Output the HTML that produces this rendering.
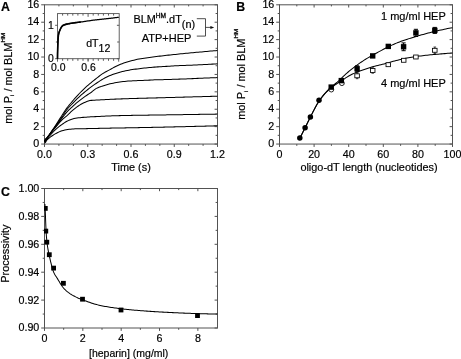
<!DOCTYPE html>
<html><head><meta charset="utf-8"><title>Figure</title>
<style>
html,body{margin:0;padding:0;background:#fff;}
body{width:461px;height:359px;overflow:hidden;}
svg{display:block;font-family:"Liberation Sans",sans-serif;fill:#111;filter:grayscale(1);}
svg text{fill:#000;stroke:#000;stroke-width:0.18px;}
</style></head><body>
<svg width="461" height="359" viewBox="0 0 461 359">
<rect x="0" y="0" width="461" height="359" fill="#fff"/>
<rect x="44.5" y="4.8" width="173" height="139.25" fill="none" stroke="#525252" stroke-width="1.0"/>
<line x1="44.5" y1="144.05" x2="41.2" y2="144.05" stroke="#525252" stroke-width="1.0"/>
<line x1="44.5" y1="126.64" x2="41.2" y2="126.64" stroke="#525252" stroke-width="1.0"/>
<line x1="44.5" y1="109.24" x2="41.2" y2="109.24" stroke="#525252" stroke-width="1.0"/>
<line x1="44.5" y1="91.83" x2="41.2" y2="91.83" stroke="#525252" stroke-width="1.0"/>
<line x1="44.5" y1="74.43" x2="41.2" y2="74.43" stroke="#525252" stroke-width="1.0"/>
<line x1="44.5" y1="57.02" x2="41.2" y2="57.02" stroke="#525252" stroke-width="1.0"/>
<line x1="44.5" y1="39.61" x2="41.2" y2="39.61" stroke="#525252" stroke-width="1.0"/>
<line x1="44.5" y1="22.21" x2="41.2" y2="22.21" stroke="#525252" stroke-width="1.0"/>
<line x1="44.5" y1="4.8" x2="41.2" y2="4.8" stroke="#525252" stroke-width="1.0"/>
<line x1="44.5" y1="135.35" x2="42.7" y2="135.35" stroke="#525252" stroke-width="1.0"/>
<line x1="44.5" y1="117.94" x2="42.7" y2="117.94" stroke="#525252" stroke-width="1.0"/>
<line x1="44.5" y1="100.53" x2="42.7" y2="100.53" stroke="#525252" stroke-width="1.0"/>
<line x1="44.5" y1="83.13" x2="42.7" y2="83.13" stroke="#525252" stroke-width="1.0"/>
<line x1="44.5" y1="65.72" x2="42.7" y2="65.72" stroke="#525252" stroke-width="1.0"/>
<line x1="44.5" y1="48.32" x2="42.7" y2="48.32" stroke="#525252" stroke-width="1.0"/>
<line x1="44.5" y1="30.91" x2="42.7" y2="30.91" stroke="#525252" stroke-width="1.0"/>
<line x1="44.5" y1="13.5" x2="42.7" y2="13.5" stroke="#525252" stroke-width="1.0"/>
<line x1="217.5" y1="144.05" x2="214.6" y2="144.05" stroke="#525252" stroke-width="1.0"/>
<line x1="217.5" y1="126.64" x2="214.6" y2="126.64" stroke="#525252" stroke-width="1.0"/>
<line x1="217.5" y1="109.24" x2="214.6" y2="109.24" stroke="#525252" stroke-width="1.0"/>
<line x1="217.5" y1="91.83" x2="214.6" y2="91.83" stroke="#525252" stroke-width="1.0"/>
<line x1="217.5" y1="74.43" x2="214.6" y2="74.43" stroke="#525252" stroke-width="1.0"/>
<line x1="217.5" y1="57.02" x2="214.6" y2="57.02" stroke="#525252" stroke-width="1.0"/>
<line x1="217.5" y1="39.61" x2="214.6" y2="39.61" stroke="#525252" stroke-width="1.0"/>
<line x1="217.5" y1="22.21" x2="214.6" y2="22.21" stroke="#525252" stroke-width="1.0"/>
<line x1="217.5" y1="4.8" x2="214.6" y2="4.8" stroke="#525252" stroke-width="1.0"/>
<line x1="217.5" y1="135.35" x2="215.6" y2="135.35" stroke="#525252" stroke-width="1.0"/>
<line x1="217.5" y1="117.94" x2="215.6" y2="117.94" stroke="#525252" stroke-width="1.0"/>
<line x1="217.5" y1="100.53" x2="215.6" y2="100.53" stroke="#525252" stroke-width="1.0"/>
<line x1="217.5" y1="83.13" x2="215.6" y2="83.13" stroke="#525252" stroke-width="1.0"/>
<line x1="217.5" y1="65.72" x2="215.6" y2="65.72" stroke="#525252" stroke-width="1.0"/>
<line x1="217.5" y1="48.32" x2="215.6" y2="48.32" stroke="#525252" stroke-width="1.0"/>
<line x1="217.5" y1="30.91" x2="215.6" y2="30.91" stroke="#525252" stroke-width="1.0"/>
<line x1="217.5" y1="13.5" x2="215.6" y2="13.5" stroke="#525252" stroke-width="1.0"/>
<line x1="44.5" y1="144.05" x2="44.5" y2="146.95" stroke="#525252" stroke-width="1.0"/>
<line x1="87.75" y1="144.05" x2="87.75" y2="146.95" stroke="#525252" stroke-width="1.0"/>
<line x1="131" y1="144.05" x2="131" y2="146.95" stroke="#525252" stroke-width="1.0"/>
<line x1="174.25" y1="144.05" x2="174.25" y2="146.95" stroke="#525252" stroke-width="1.0"/>
<line x1="217.5" y1="144.05" x2="217.5" y2="146.95" stroke="#525252" stroke-width="1.0"/>
<line x1="58.92" y1="144.05" x2="58.92" y2="145.85" stroke="#525252" stroke-width="1.0"/>
<line x1="73.33" y1="144.05" x2="73.33" y2="145.85" stroke="#525252" stroke-width="1.0"/>
<line x1="102.17" y1="144.05" x2="102.17" y2="145.85" stroke="#525252" stroke-width="1.0"/>
<line x1="116.58" y1="144.05" x2="116.58" y2="145.85" stroke="#525252" stroke-width="1.0"/>
<line x1="145.42" y1="144.05" x2="145.42" y2="145.85" stroke="#525252" stroke-width="1.0"/>
<line x1="159.83" y1="144.05" x2="159.83" y2="145.85" stroke="#525252" stroke-width="1.0"/>
<line x1="188.67" y1="144.05" x2="188.67" y2="145.85" stroke="#525252" stroke-width="1.0"/>
<line x1="203.08" y1="144.05" x2="203.08" y2="145.85" stroke="#525252" stroke-width="1.0"/>
<line x1="44.5" y1="4.8" x2="44.5" y2="7.5" stroke="#525252" stroke-width="1.0"/>
<line x1="87.75" y1="4.8" x2="87.75" y2="7.5" stroke="#525252" stroke-width="1.0"/>
<line x1="131" y1="4.8" x2="131" y2="7.5" stroke="#525252" stroke-width="1.0"/>
<line x1="174.25" y1="4.8" x2="174.25" y2="7.5" stroke="#525252" stroke-width="1.0"/>
<line x1="217.5" y1="4.8" x2="217.5" y2="7.5" stroke="#525252" stroke-width="1.0"/>
<line x1="58.92" y1="4.8" x2="58.92" y2="6.4" stroke="#525252" stroke-width="1.0"/>
<line x1="73.33" y1="4.8" x2="73.33" y2="6.4" stroke="#525252" stroke-width="1.0"/>
<line x1="102.17" y1="4.8" x2="102.17" y2="6.4" stroke="#525252" stroke-width="1.0"/>
<line x1="116.58" y1="4.8" x2="116.58" y2="6.4" stroke="#525252" stroke-width="1.0"/>
<line x1="145.42" y1="4.8" x2="145.42" y2="6.4" stroke="#525252" stroke-width="1.0"/>
<line x1="159.83" y1="4.8" x2="159.83" y2="6.4" stroke="#525252" stroke-width="1.0"/>
<line x1="188.67" y1="4.8" x2="188.67" y2="6.4" stroke="#525252" stroke-width="1.0"/>
<line x1="203.08" y1="4.8" x2="203.08" y2="6.4" stroke="#525252" stroke-width="1.0"/>
<text x="39.3" y="147.25" font-size="10.7" text-anchor="end" font-weight="normal" >0</text>
<text x="39.3" y="129.84" font-size="10.7" text-anchor="end" font-weight="normal" >2</text>
<text x="39.3" y="112.44" font-size="10.7" text-anchor="end" font-weight="normal" >4</text>
<text x="39.3" y="95.03" font-size="10.7" text-anchor="end" font-weight="normal" >6</text>
<text x="39.3" y="77.63" font-size="10.7" text-anchor="end" font-weight="normal" >8</text>
<text x="39.3" y="60.22" font-size="10.7" text-anchor="end" font-weight="normal" >10</text>
<text x="39.3" y="42.81" font-size="10.7" text-anchor="end" font-weight="normal" >12</text>
<text x="39.3" y="25.41" font-size="10.7" text-anchor="end" font-weight="normal" >14</text>
<text x="39.3" y="8" font-size="10.7" text-anchor="end" font-weight="normal" >16</text>
<text x="44.5" y="157.85" font-size="10.7" text-anchor="middle" font-weight="normal" >0.0</text>
<text x="87.75" y="157.85" font-size="10.7" text-anchor="middle" font-weight="normal" >0.3</text>
<text x="131" y="157.85" font-size="10.7" text-anchor="middle" font-weight="normal" >0.6</text>
<text x="174.25" y="157.85" font-size="10.7" text-anchor="middle" font-weight="normal" >0.9</text>
<text x="217.5" y="157.85" font-size="10.7" text-anchor="middle" font-weight="normal" >1.2</text>
<text x="131" y="171.4" font-size="10.9" text-anchor="middle" font-weight="normal" >Time (s)</text>
<text x="1" y="11" font-size="12.3" text-anchor="start" font-weight="bold" >A</text>
<text transform="translate(11.8,123.8) rotate(-90)" font-size="10.9" text-anchor="start">mol P<tspan font-size="6" dy="2.4">i</tspan><tspan dy="-2.4"> / mol BLM</tspan><tspan font-size="6.2" dy="-7.0" stroke-width="0.3">HM</tspan></text>
<path d="M44.3 141.6 L45.34 140.19 L46.37 138.77 L47.39 137.35 L48.41 135.92 L49.41 134.48 L50.4 133.04 L51.39 131.59 L52.38 130.14 L53.37 128.7 L54.35 127.24 L55.32 125.79 L56.29 124.32 L57.24 122.85 L58.18 121.37 L59.1 119.88 L60.03 118.39 L60.96 116.91 L61.91 115.43 L62.85 113.96 L63.8 112.48 L64.77 111.02 L65.76 109.57 L66.79 108.16 L67.86 106.78 L68.96 105.41 L70.07 104.05 L71.2 102.71 L72.33 101.37 L73.46 100.03 L74.61 98.7 L75.77 97.39 L76.94 96.08 L78.12 94.79 L79.33 93.52 L80.55 92.26 L81.78 91.02 L83.04 89.79 L84.31 88.58 L85.59 87.4 L86.9 86.23 L88.23 85.08 L89.57 83.95 L90.91 82.82 L92.26 81.71 L93.62 80.61 L95 79.51 L96.37 78.43 L97.75 77.35 L99.13 76.25 L100.52 75.18 L101.93 74.15 L103.39 73.19 L104.9 72.32 L106.45 71.49 L108.01 70.67 L109.55 69.84 L111.09 68.98 L112.62 68.12 L114.15 67.27 L115.7 66.45 L117.27 65.68 L118.87 64.98 L120.49 64.32 L122.13 63.69 L123.78 63.1 L125.45 62.53 L127.12 62 L128.8 61.51 L130.49 61.04 L132.19 60.6 L133.89 60.18 L135.59 59.76 L137.3 59.35 L139.01 58.99 L140.73 58.67 L142.46 58.4 L144.2 58.16 L145.94 57.92 L147.67 57.68 L149.41 57.45 L151.15 57.22 L152.89 57 L154.62 56.77 L156.36 56.55 L158.1 56.34 L159.84 56.12 L161.58 55.91 L163.32 55.7 L165.06 55.5 L166.8 55.31 L168.55 55.12 L170.29 54.93 L172.03 54.75 L173.78 54.57 L175.52 54.39 L177.26 54.21 L179.01 54.04 L180.75 53.86 L182.49 53.69 L184.24 53.51 L185.98 53.34 L187.73 53.17 L189.47 53.01 L191.22 52.84 L192.96 52.68 L194.71 52.52 L196.45 52.36 L198.2 52.2 L199.94 52.05 L201.69 51.89 L203.43 51.73 L205.18 51.58 L206.92 51.42 L208.67 51.27 L210.42 51.11 L212.16 50.96 L213.91 50.8 L215.65 50.65 L217.4 50.5" fill="none" stroke="#000" stroke-width="1.02" stroke-linejoin="round" />
<path d="M44.3 141.6 L45.33 140.24 L46.35 138.87 L47.36 137.5 L48.35 136.11 L49.34 134.72 L50.32 133.33 L51.31 131.94 L52.31 130.55 L53.3 129.17 L54.3 127.78 L55.29 126.4 L56.28 125.01 L57.27 123.62 L58.28 122.24 L59.28 120.86 L60.28 119.47 L61.26 118.08 L62.24 116.68 L63.19 115.27 L64.08 113.81 L64.95 112.34 L65.88 110.91 L66.9 109.56 L68 108.27 L69.14 107 L70.33 105.76 L71.51 104.52 L72.69 103.29 L73.88 102.06 L75.07 100.84 L76.28 99.64 L77.51 98.45 L78.74 97.28 L80 96.12 L81.27 94.98 L82.55 93.86 L83.85 92.75 L85.15 91.66 L86.48 90.58 L87.81 89.51 L89.16 88.47 L90.52 87.44 L91.89 86.42 L93.27 85.43 L94.67 84.45 L96.08 83.49 L97.49 82.53 L98.91 81.59 L100.35 80.65 L101.79 79.75 L103.26 78.89 L104.75 78.06 L106.26 77.25 L107.79 76.5 L109.35 75.81 L110.92 75.17 L112.52 74.57 L114.13 73.99 L115.76 73.46 L117.39 72.95 L119.02 72.48 L120.67 72.03 L122.32 71.61 L123.98 71.21 L125.65 70.84 L127.32 70.5 L128.99 70.17 L130.67 69.87 L132.36 69.6 L134.04 69.35 L135.73 69.12 L137.42 68.91 L139.12 68.71 L140.81 68.5 L142.51 68.3 L144.2 68.1 L145.9 67.92 L147.59 67.75 L149.29 67.58 L150.99 67.42 L152.69 67.27 L154.39 67.12 L156.09 66.99 L157.79 66.88 L159.49 66.77 L161.19 66.68 L162.9 66.58 L164.6 66.48 L166.3 66.37 L168 66.26 L169.7 66.15 L171.41 66.04 L173.11 65.93 L174.81 65.83 L176.51 65.74 L178.22 65.66 L179.92 65.59 L181.63 65.53 L183.33 65.46 L185.04 65.41 L186.74 65.35 L188.44 65.28 L190.15 65.22 L191.85 65.15 L193.56 65.08 L195.26 65 L196.96 64.93 L198.67 64.85 L200.37 64.77 L202.08 64.69 L203.78 64.6 L205.48 64.51 L207.19 64.42 L208.89 64.32 L210.59 64.22 L212.29 64.12 L214 64.02 L215.7 63.91 L217.4 63.8" fill="none" stroke="#000" stroke-width="1.02" stroke-linejoin="round" />
<path d="M44.3 141.6 L45.31 140.29 L46.32 138.97 L47.31 137.65 L48.3 136.32 L49.27 134.97 L50.24 133.63 L51.22 132.3 L52.21 130.97 L53.21 129.64 L54.2 128.32 L55.21 127 L56.21 125.68 L57.21 124.37 L58.22 123.05 L59.23 121.74 L60.24 120.43 L61.26 119.12 L62.27 117.81 L63.29 116.5 L64.31 115.19 L65.31 113.87 L66.37 112.6 L67.49 111.39 L68.66 110.22 L69.86 109.07 L71.08 107.94 L72.29 106.81 L73.51 105.68 L74.73 104.56 L75.97 103.46 L77.23 102.38 L78.5 101.32 L79.79 100.29 L81.1 99.28 L82.43 98.29 L83.78 97.31 L85.13 96.36 L86.51 95.45 L87.91 94.55 L89.3 93.65 L90.67 92.72 L92 91.72 L93.3 90.65 L94.61 89.61 L95.96 88.67 L97.38 87.92 L98.89 87.26 L100.44 86.68 L102.03 86.14 L103.63 85.64 L105.21 85.15 L106.8 84.7 L108.41 84.27 L110.02 83.86 L111.63 83.49 L113.25 83.15 L114.87 82.82 L116.51 82.53 L118.14 82.26 L119.78 82.02 L121.42 81.79 L123.07 81.58 L124.71 81.39 L126.36 81.24 L128.01 81.11 L129.66 81 L131.32 80.91 L132.97 80.82 L134.63 80.74 L136.28 80.67 L137.94 80.59 L139.59 80.53 L141.25 80.47 L142.91 80.42 L144.56 80.36 L146.22 80.3 L147.87 80.22 L149.53 80.13 L151.18 80.03 L152.83 79.94 L154.49 79.86 L156.14 79.8 L157.8 79.75 L159.46 79.71 L161.11 79.67 L162.77 79.64 L164.43 79.59 L166.08 79.55 L167.74 79.5 L169.39 79.45 L171.05 79.4 L172.7 79.35 L174.36 79.3 L176.02 79.25 L177.67 79.19 L179.33 79.13 L180.98 79.07 L182.64 79.01 L184.29 78.95 L185.95 78.89 L187.61 78.82 L189.26 78.75 L190.92 78.69 L192.57 78.62 L194.23 78.54 L195.88 78.46 L197.54 78.38 L199.19 78.3 L200.85 78.23 L202.5 78.15 L204.16 78.09 L205.81 78.02 L207.47 77.95 L209.12 77.89 L210.78 77.83 L212.43 77.77 L214.09 77.71 L215.74 77.65 L217.4 77.6" fill="none" stroke="#000" stroke-width="1.02" stroke-linejoin="round" />
<path d="M44.3 141.6 L45.29 140.35 L46.27 139.09 L47.25 137.83 L48.22 136.56 L49.18 135.29 L50.14 134.02 L51.13 132.76 L52.12 131.51 L53.12 130.27 L54.13 129.03 L55.15 127.8 L56.18 126.58 L57.2 125.36 L58.23 124.13 L59.26 122.91 L60.31 121.7 L61.39 120.53 L62.5 119.4 L63.69 118.34 L64.92 117.32 L66.16 116.31 L67.38 115.28 L68.55 114.2 L69.69 113.08 L70.83 111.96 L71.99 110.87 L73.2 109.83 L74.44 108.81 L75.7 107.82 L76.98 106.87 L78.29 105.97 L79.63 105.11 L81 104.27 L82.41 103.49 L83.84 102.79 L85.29 102.17 L86.79 101.57 L88.31 101.02 L89.86 100.6 L91.41 100.37 L92.99 100.25 L94.59 100.16 L96.2 100.08 L97.79 99.99 L99.38 99.91 L100.98 99.82 L102.57 99.74 L104.16 99.65 L105.76 99.57 L107.35 99.49 L108.95 99.41 L110.54 99.33 L112.13 99.26 L113.73 99.19 L115.32 99.12 L116.92 99.06 L118.51 99 L120.1 98.94 L121.7 98.88 L123.29 98.82 L124.89 98.77 L126.48 98.71 L128.08 98.66 L129.67 98.61 L131.27 98.56 L132.86 98.51 L134.46 98.47 L136.05 98.42 L137.65 98.38 L139.24 98.34 L140.84 98.29 L142.43 98.25 L144.03 98.21 L145.62 98.17 L147.22 98.13 L148.81 98.09 L150.41 98.05 L152 98.01 L153.6 97.96 L155.19 97.92 L156.79 97.88 L158.38 97.83 L159.98 97.79 L161.57 97.75 L163.17 97.7 L164.76 97.66 L166.36 97.61 L167.95 97.57 L169.55 97.52 L171.14 97.48 L172.74 97.43 L174.33 97.39 L175.93 97.34 L177.52 97.3 L179.12 97.25 L180.71 97.21 L182.31 97.16 L183.9 97.12 L185.5 97.08 L187.09 97.03 L188.69 96.99 L190.28 96.94 L191.88 96.9 L193.47 96.85 L195.07 96.81 L196.66 96.77 L198.26 96.72 L199.85 96.68 L201.45 96.64 L203.04 96.59 L204.64 96.55 L206.23 96.5 L207.83 96.46 L209.42 96.42 L211.02 96.37 L212.61 96.33 L214.21 96.29 L215.8 96.24 L217.4 96.2" fill="none" stroke="#000" stroke-width="1.02" stroke-linejoin="round" />
<path d="M44.3 141.6 L45.36 140.5 L46.4 139.39 L47.44 138.27 L48.46 137.13 L49.46 135.98 L50.48 134.84 L51.52 133.72 L52.56 132.6 L53.62 131.49 L54.69 130.4 L55.79 129.34 L56.92 128.33 L58.09 127.35 L59.28 126.39 L60.51 125.47 L61.75 124.58 L63.01 123.72 L64.28 122.87 L65.58 122.05 L66.91 121.29 L68.27 120.62 L69.67 120.01 L71.1 119.44 L72.55 118.95 L74.02 118.57 L75.51 118.28 L77.02 118.04 L78.54 117.83 L80.06 117.66 L81.58 117.51 L83.1 117.38 L84.62 117.26 L86.15 117.15 L87.67 117.05 L89.19 116.95 L90.72 116.86 L92.24 116.77 L93.77 116.69 L95.29 116.62 L96.82 116.54 L98.34 116.47 L99.87 116.4 L101.39 116.33 L102.92 116.26 L104.44 116.18 L105.97 116.11 L107.49 116.04 L109.02 115.97 L110.54 115.9 L112.07 115.85 L113.6 115.79 L115.12 115.75 L116.65 115.7 L118.17 115.66 L119.7 115.62 L121.23 115.58 L122.75 115.55 L124.28 115.51 L125.81 115.48 L127.33 115.45 L128.86 115.42 L130.38 115.39 L131.91 115.37 L133.44 115.34 L134.96 115.32 L136.49 115.3 L138.02 115.27 L139.54 115.25 L141.07 115.23 L142.6 115.21 L144.12 115.19 L145.65 115.17 L147.18 115.15 L148.7 115.13 L150.23 115.11 L151.76 115.09 L153.28 115.07 L154.81 115.04 L156.34 115.02 L157.86 115 L159.39 114.98 L160.92 114.95 L162.44 114.93 L163.97 114.91 L165.5 114.89 L167.02 114.86 L168.55 114.84 L170.08 114.82 L171.6 114.8 L173.13 114.77 L174.66 114.75 L176.18 114.73 L177.71 114.7 L179.24 114.68 L180.76 114.66 L182.29 114.64 L183.82 114.61 L185.34 114.59 L186.87 114.57 L188.4 114.54 L189.92 114.52 L191.45 114.5 L192.97 114.47 L194.5 114.45 L196.03 114.43 L197.55 114.41 L199.08 114.38 L200.61 114.36 L202.13 114.34 L203.66 114.31 L205.19 114.29 L206.71 114.27 L208.24 114.24 L209.77 114.22 L211.29 114.19 L212.82 114.17 L214.35 114.15 L215.87 114.12 L217.4 114.1" fill="none" stroke="#000" stroke-width="1.02" stroke-linejoin="round" />
<path d="M44.3 141.6 L45.52 140.75 L46.72 139.88 L47.9 138.99 L49.06 138.06 L50.23 137.14 L51.43 136.29 L52.67 135.46 L53.92 134.66 L55.2 133.9 L56.5 133.2 L57.82 132.53 L59.17 131.9 L60.54 131.31 L61.94 130.81 L63.35 130.4 L64.79 130.01 L66.24 129.69 L67.71 129.45 L69.17 129.29 L70.64 129.15 L72.12 129.03 L73.61 128.94 L75.09 128.86 L76.58 128.81 L78.06 128.77 L79.54 128.74 L81.02 128.71 L82.5 128.69 L83.99 128.67 L85.47 128.65 L86.95 128.63 L88.44 128.6 L89.92 128.57 L91.4 128.54 L92.88 128.51 L94.37 128.47 L95.85 128.44 L97.33 128.4 L98.81 128.37 L100.29 128.34 L101.78 128.3 L103.26 128.27 L104.74 128.24 L106.22 128.22 L107.71 128.19 L109.19 128.16 L110.67 128.13 L112.15 128.1 L113.64 128.08 L115.12 128.05 L116.6 128.02 L118.08 128 L119.57 127.97 L121.05 127.95 L122.53 127.92 L124.01 127.89 L125.5 127.87 L126.98 127.84 L128.46 127.82 L129.94 127.79 L131.43 127.77 L132.91 127.74 L134.39 127.71 L135.87 127.69 L137.36 127.66 L138.84 127.63 L140.32 127.61 L141.8 127.58 L143.29 127.55 L144.77 127.52 L146.25 127.49 L147.73 127.46 L149.22 127.43 L150.7 127.4 L152.18 127.37 L153.66 127.34 L155.14 127.31 L156.63 127.28 L158.11 127.25 L159.59 127.22 L161.07 127.18 L162.56 127.15 L164.04 127.12 L165.52 127.09 L167 127.05 L168.49 127.02 L169.97 126.99 L171.45 126.95 L172.93 126.92 L174.42 126.88 L175.9 126.85 L177.38 126.82 L178.86 126.78 L180.34 126.75 L181.83 126.71 L183.31 126.68 L184.79 126.64 L186.27 126.6 L187.76 126.57 L189.24 126.53 L190.72 126.49 L192.2 126.46 L193.68 126.42 L195.17 126.38 L196.65 126.35 L198.13 126.31 L199.61 126.27 L201.1 126.23 L202.58 126.19 L204.06 126.16 L205.54 126.12 L207.02 126.08 L208.51 126.04 L209.99 126 L211.47 125.96 L212.95 125.92 L214.44 125.88 L215.92 125.84 L217.4 125.8" fill="none" stroke="#000" stroke-width="1.02" stroke-linejoin="round" />
<path d="M44.5 139 L47.6 136.8 L48.3 138.4 L46 142.6 L44.5 143.8 Z" fill="#000"/>
<rect x="57.5" y="13.6" width="61.7" height="45.1" fill="#fff" stroke="#525252" stroke-width="0.9"/>
<line x1="57.5" y1="58.7" x2="57.5" y2="61.7" stroke="#525252" stroke-width="0.9"/>
<line x1="88.1" y1="58.7" x2="88.1" y2="61.7" stroke="#525252" stroke-width="0.9"/>
<line x1="118.7" y1="58.7" x2="118.7" y2="61.7" stroke="#525252" stroke-width="0.9"/>
<line x1="62.6" y1="58.7" x2="62.6" y2="60.8" stroke="#525252" stroke-width="0.95"/>
<line x1="62.6" y1="13.6" x2="62.6" y2="15.6" stroke="#525252" stroke-width="0.95"/>
<line x1="67.7" y1="58.7" x2="67.7" y2="60.8" stroke="#525252" stroke-width="0.95"/>
<line x1="67.7" y1="13.6" x2="67.7" y2="15.6" stroke="#525252" stroke-width="0.95"/>
<line x1="72.8" y1="58.7" x2="72.8" y2="60.8" stroke="#525252" stroke-width="0.95"/>
<line x1="72.8" y1="13.6" x2="72.8" y2="15.6" stroke="#525252" stroke-width="0.95"/>
<line x1="77.9" y1="58.7" x2="77.9" y2="60.8" stroke="#525252" stroke-width="0.95"/>
<line x1="77.9" y1="13.6" x2="77.9" y2="15.6" stroke="#525252" stroke-width="0.95"/>
<line x1="83" y1="58.7" x2="83" y2="60.8" stroke="#525252" stroke-width="0.95"/>
<line x1="83" y1="13.6" x2="83" y2="15.6" stroke="#525252" stroke-width="0.95"/>
<line x1="88.1" y1="58.7" x2="88.1" y2="60.8" stroke="#525252" stroke-width="0.95"/>
<line x1="88.1" y1="13.6" x2="88.1" y2="16.8" stroke="#525252" stroke-width="0.95"/>
<line x1="93.2" y1="58.7" x2="93.2" y2="60.8" stroke="#525252" stroke-width="0.95"/>
<line x1="93.2" y1="13.6" x2="93.2" y2="15.6" stroke="#525252" stroke-width="0.95"/>
<line x1="98.3" y1="58.7" x2="98.3" y2="60.8" stroke="#525252" stroke-width="0.95"/>
<line x1="98.3" y1="13.6" x2="98.3" y2="15.6" stroke="#525252" stroke-width="0.95"/>
<line x1="103.4" y1="58.7" x2="103.4" y2="60.8" stroke="#525252" stroke-width="0.95"/>
<line x1="103.4" y1="13.6" x2="103.4" y2="15.6" stroke="#525252" stroke-width="0.95"/>
<line x1="108.5" y1="58.7" x2="108.5" y2="60.8" stroke="#525252" stroke-width="0.95"/>
<line x1="108.5" y1="13.6" x2="108.5" y2="15.6" stroke="#525252" stroke-width="0.95"/>
<line x1="113.6" y1="58.7" x2="113.6" y2="60.8" stroke="#525252" stroke-width="0.95"/>
<line x1="113.6" y1="13.6" x2="113.6" y2="15.6" stroke="#525252" stroke-width="0.95"/>
<line x1="57.5" y1="58.7" x2="55.1" y2="58.7" stroke="#525252" stroke-width="0.9"/>
<line x1="119.2" y1="58.7" x2="116.9" y2="58.7" stroke="#525252" stroke-width="0.95"/>
<line x1="57.5" y1="25.3" x2="55.1" y2="25.3" stroke="#525252" stroke-width="0.9"/>
<line x1="119.2" y1="25.3" x2="116.9" y2="25.3" stroke="#525252" stroke-width="0.95"/>
<line x1="57.5" y1="42" x2="55.9" y2="42" stroke="#525252" stroke-width="0.95"/>
<line x1="119.2" y1="42" x2="117.2" y2="42" stroke="#525252" stroke-width="0.95"/>
<text x="53.9" y="28.9" font-size="10.4" text-anchor="end" font-weight="normal" >1</text>
<text x="53.9" y="62.3" font-size="10.4" text-anchor="end" font-weight="normal" >0</text>
<text x="58.2" y="71.4" font-size="10.4" text-anchor="middle" font-weight="normal" >0.0</text>
<text x="88.5" y="71.4" font-size="10.4" text-anchor="middle" font-weight="normal" >0.6</text>
<text x="86.2" y="46.8" font-size="10.6" text-anchor="start">dT<tspan dy="5.1">12</tspan></text>
<path d="M57.5 58.7 L57.5 57.94 L57.51 57.17 L57.51 56.41 L57.52 55.64 L57.53 54.88 L57.54 54.11 L57.56 53.35 L57.57 52.58 L57.59 51.82 L57.61 51.06 L57.63 50.29 L57.66 49.53 L57.68 48.77 L57.71 48 L57.73 47.24 L57.76 46.48 L57.79 45.71 L57.82 44.95 L57.85 44.19 L57.88 43.42 L57.91 42.66 L57.94 41.9 L57.97 41.13 L58.01 40.36 L58.06 39.59 L58.11 38.83 L58.17 38.06 L58.23 37.3 L58.3 36.54 L58.38 35.79 L58.47 35.04 L58.58 34.29 L58.73 33.55 L58.93 32.8 L59.17 32.06 L59.43 31.33 L59.72 30.61 L60.02 29.91 L60.33 29.23 L60.67 28.52 L61.05 27.8 L61.46 27.1 L61.92 26.46 L62.41 25.9 L62.94 25.47 L63.56 25.13 L64.28 24.84 L65.04 24.59 L65.81 24.38 L66.54 24.19 L67.28 24.02 L68.03 23.86 L68.78 23.72 L69.54 23.58 L70.3 23.46 L71.05 23.33 L71.81 23.21 L72.56 23.1 L73.32 22.98 L74.07 22.88 L74.83 22.78 L75.59 22.68 L76.35 22.58 L77.1 22.48 L77.86 22.39 L78.62 22.29 L79.38 22.19 L80.14 22.09 L80.89 21.99 L81.65 21.88 L82.41 21.77 L83.16 21.66 L83.92 21.55 L84.67 21.44 L85.43 21.32 L86.19 21.21 L86.94 21.1 L87.7 20.98 L88.45 20.87 L89.21 20.76 L89.96 20.65 L90.72 20.54 L91.48 20.43 L92.23 20.33 L92.99 20.23 L93.75 20.13 L94.51 20.04 L95.26 19.94 L96.02 19.85 L96.78 19.77 L97.54 19.68 L98.3 19.59 L99.06 19.51 L99.82 19.43 L100.58 19.34 L101.34 19.26 L102.1 19.18 L102.86 19.1 L103.62 19.02 L104.38 18.94 L105.14 18.86 L105.9 18.78 L106.66 18.69 L107.42 18.61 L108.17 18.53 L108.93 18.44 L109.69 18.35 L110.45 18.27 L111.21 18.18 L111.97 18.09 L112.73 18.01 L113.49 17.92 L114.25 17.83 L115.01 17.74 L115.76 17.65 L116.52 17.57 L117.28 17.48 L118.04 17.39 L118.8 17.3" fill="none" stroke="#000" stroke-width="1.25" stroke-linejoin="round" />
<path d="M57.5 58.7 L57.5 57.81 L57.51 56.91 L57.52 56.02 L57.53 55.13 L57.54 54.24 L57.56 53.34 L57.58 52.45 L57.6 51.56 L57.62 50.67 L57.65 49.78 L57.68 48.89 L57.71 48 L57.74 47.1 L57.77 46.21 L57.8 45.32 L57.84 44.43 L57.87 43.54 L57.91 42.65 L57.94 41.76 L57.99 40.86 L58.04 39.97 L58.09 39.07 L58.16 38.18 L58.23 37.29 L58.32 36.4 L58.41 35.52 L58.52 34.65 L58.68 33.78 L58.9 32.91 L59.18 32.05 L59.49 31.19 L59.83 30.36 L60.18 29.55 L60.56 28.74 L60.99 27.9 L61.48 27.08 L62.01 26.34 L62.6 25.73 L63.26 25.29 L64.05 24.93 L64.94 24.63 L65.83 24.37 L66.69 24.15 L67.56 23.96 L68.43 23.78 L69.31 23.62 L70.2 23.47 L71.08 23.33 L71.96 23.19 L72.84 23.05 L73.72 22.92 L74.6 22.78 L75.49 22.66 L76.37 22.53 L77.25 22.42 L78.14 22.3 L79.03 22.2 L79.91 22.09 L80.8 22" fill="none" stroke="#000" stroke-width="1.6" stroke-linejoin="round" />
<text x="133.4" y="23.2" font-size="10.9" text-anchor="start">BLM<tspan font-size="6.6" dy="-5.5" stroke-width="0.3">HM</tspan><tspan dy="5.5">.dT</tspan><tspan dy="4.4" font-size="10.9">(n)</tspan></text>
<text x="141.8" y="41.9" font-size="11" text-anchor="start" font-weight="normal" >ATP+HEP</text>
<path d="M196.8 18.7 H205.5 V36.1 H196.8" fill="none" stroke="#222" stroke-width="0.8"/>
<path d="M205.5 27.4 H212" fill="none" stroke="#222" stroke-width="0.8"/>
<path d="M210.4 25.9 L214.2 27.4 L210.4 28.9 Z" fill="#111"/>
<rect x="279.5" y="4.8" width="173" height="139.25" fill="none" stroke="#525252" stroke-width="1.0"/>
<line x1="279.5" y1="144.05" x2="276.2" y2="144.05" stroke="#525252" stroke-width="1.0"/>
<line x1="279.5" y1="126.64" x2="276.2" y2="126.64" stroke="#525252" stroke-width="1.0"/>
<line x1="279.5" y1="109.24" x2="276.2" y2="109.24" stroke="#525252" stroke-width="1.0"/>
<line x1="279.5" y1="91.83" x2="276.2" y2="91.83" stroke="#525252" stroke-width="1.0"/>
<line x1="279.5" y1="74.43" x2="276.2" y2="74.43" stroke="#525252" stroke-width="1.0"/>
<line x1="279.5" y1="57.02" x2="276.2" y2="57.02" stroke="#525252" stroke-width="1.0"/>
<line x1="279.5" y1="39.61" x2="276.2" y2="39.61" stroke="#525252" stroke-width="1.0"/>
<line x1="279.5" y1="22.21" x2="276.2" y2="22.21" stroke="#525252" stroke-width="1.0"/>
<line x1="279.5" y1="4.8" x2="276.2" y2="4.8" stroke="#525252" stroke-width="1.0"/>
<line x1="279.5" y1="135.35" x2="277.7" y2="135.35" stroke="#525252" stroke-width="1.0"/>
<line x1="279.5" y1="117.94" x2="277.7" y2="117.94" stroke="#525252" stroke-width="1.0"/>
<line x1="279.5" y1="100.53" x2="277.7" y2="100.53" stroke="#525252" stroke-width="1.0"/>
<line x1="279.5" y1="83.13" x2="277.7" y2="83.13" stroke="#525252" stroke-width="1.0"/>
<line x1="279.5" y1="65.72" x2="277.7" y2="65.72" stroke="#525252" stroke-width="1.0"/>
<line x1="279.5" y1="48.32" x2="277.7" y2="48.32" stroke="#525252" stroke-width="1.0"/>
<line x1="279.5" y1="30.91" x2="277.7" y2="30.91" stroke="#525252" stroke-width="1.0"/>
<line x1="279.5" y1="13.5" x2="277.7" y2="13.5" stroke="#525252" stroke-width="1.0"/>
<line x1="452.5" y1="144.05" x2="449.6" y2="144.05" stroke="#525252" stroke-width="1.0"/>
<line x1="452.5" y1="126.64" x2="449.6" y2="126.64" stroke="#525252" stroke-width="1.0"/>
<line x1="452.5" y1="109.24" x2="449.6" y2="109.24" stroke="#525252" stroke-width="1.0"/>
<line x1="452.5" y1="91.83" x2="449.6" y2="91.83" stroke="#525252" stroke-width="1.0"/>
<line x1="452.5" y1="74.43" x2="449.6" y2="74.43" stroke="#525252" stroke-width="1.0"/>
<line x1="452.5" y1="57.02" x2="449.6" y2="57.02" stroke="#525252" stroke-width="1.0"/>
<line x1="452.5" y1="39.61" x2="449.6" y2="39.61" stroke="#525252" stroke-width="1.0"/>
<line x1="452.5" y1="22.21" x2="449.6" y2="22.21" stroke="#525252" stroke-width="1.0"/>
<line x1="452.5" y1="4.8" x2="449.6" y2="4.8" stroke="#525252" stroke-width="1.0"/>
<line x1="452.5" y1="135.35" x2="450.6" y2="135.35" stroke="#525252" stroke-width="1.0"/>
<line x1="452.5" y1="117.94" x2="450.6" y2="117.94" stroke="#525252" stroke-width="1.0"/>
<line x1="452.5" y1="100.53" x2="450.6" y2="100.53" stroke="#525252" stroke-width="1.0"/>
<line x1="452.5" y1="83.13" x2="450.6" y2="83.13" stroke="#525252" stroke-width="1.0"/>
<line x1="452.5" y1="65.72" x2="450.6" y2="65.72" stroke="#525252" stroke-width="1.0"/>
<line x1="452.5" y1="48.32" x2="450.6" y2="48.32" stroke="#525252" stroke-width="1.0"/>
<line x1="452.5" y1="30.91" x2="450.6" y2="30.91" stroke="#525252" stroke-width="1.0"/>
<line x1="452.5" y1="13.5" x2="450.6" y2="13.5" stroke="#525252" stroke-width="1.0"/>
<line x1="279.5" y1="144.05" x2="279.5" y2="146.95" stroke="#525252" stroke-width="1.0"/>
<line x1="314.1" y1="144.05" x2="314.1" y2="146.95" stroke="#525252" stroke-width="1.0"/>
<line x1="348.7" y1="144.05" x2="348.7" y2="146.95" stroke="#525252" stroke-width="1.0"/>
<line x1="383.3" y1="144.05" x2="383.3" y2="146.95" stroke="#525252" stroke-width="1.0"/>
<line x1="417.9" y1="144.05" x2="417.9" y2="146.95" stroke="#525252" stroke-width="1.0"/>
<line x1="452.5" y1="144.05" x2="452.5" y2="146.95" stroke="#525252" stroke-width="1.0"/>
<line x1="296.8" y1="144.05" x2="296.8" y2="145.85" stroke="#525252" stroke-width="1.0"/>
<line x1="331.4" y1="144.05" x2="331.4" y2="145.85" stroke="#525252" stroke-width="1.0"/>
<line x1="366" y1="144.05" x2="366" y2="145.85" stroke="#525252" stroke-width="1.0"/>
<line x1="400.6" y1="144.05" x2="400.6" y2="145.85" stroke="#525252" stroke-width="1.0"/>
<line x1="435.2" y1="144.05" x2="435.2" y2="145.85" stroke="#525252" stroke-width="1.0"/>
<line x1="279.5" y1="4.8" x2="279.5" y2="7.5" stroke="#525252" stroke-width="1.0"/>
<line x1="314.1" y1="4.8" x2="314.1" y2="7.5" stroke="#525252" stroke-width="1.0"/>
<line x1="348.7" y1="4.8" x2="348.7" y2="7.5" stroke="#525252" stroke-width="1.0"/>
<line x1="383.3" y1="4.8" x2="383.3" y2="7.5" stroke="#525252" stroke-width="1.0"/>
<line x1="417.9" y1="4.8" x2="417.9" y2="7.5" stroke="#525252" stroke-width="1.0"/>
<line x1="452.5" y1="4.8" x2="452.5" y2="7.5" stroke="#525252" stroke-width="1.0"/>
<line x1="296.8" y1="4.8" x2="296.8" y2="6.4" stroke="#525252" stroke-width="1.0"/>
<line x1="331.4" y1="4.8" x2="331.4" y2="6.4" stroke="#525252" stroke-width="1.0"/>
<line x1="366" y1="4.8" x2="366" y2="6.4" stroke="#525252" stroke-width="1.0"/>
<line x1="400.6" y1="4.8" x2="400.6" y2="6.4" stroke="#525252" stroke-width="1.0"/>
<line x1="435.2" y1="4.8" x2="435.2" y2="6.4" stroke="#525252" stroke-width="1.0"/>
<text x="274.3" y="147.25" font-size="10.7" text-anchor="end" font-weight="normal" >0</text>
<text x="274.3" y="129.84" font-size="10.7" text-anchor="end" font-weight="normal" >2</text>
<text x="274.3" y="112.44" font-size="10.7" text-anchor="end" font-weight="normal" >4</text>
<text x="274.3" y="95.03" font-size="10.7" text-anchor="end" font-weight="normal" >6</text>
<text x="274.3" y="77.63" font-size="10.7" text-anchor="end" font-weight="normal" >8</text>
<text x="274.3" y="60.22" font-size="10.7" text-anchor="end" font-weight="normal" >10</text>
<text x="274.3" y="42.81" font-size="10.7" text-anchor="end" font-weight="normal" >12</text>
<text x="274.3" y="25.41" font-size="10.7" text-anchor="end" font-weight="normal" >14</text>
<text x="274.3" y="8" font-size="10.7" text-anchor="end" font-weight="normal" >16</text>
<text x="279.5" y="157.85" font-size="10.7" text-anchor="middle" font-weight="normal" >0</text>
<text x="314.1" y="157.85" font-size="10.7" text-anchor="middle" font-weight="normal" >20</text>
<text x="348.7" y="157.85" font-size="10.7" text-anchor="middle" font-weight="normal" >40</text>
<text x="383.3" y="157.85" font-size="10.7" text-anchor="middle" font-weight="normal" >60</text>
<text x="417.9" y="157.85" font-size="10.7" text-anchor="middle" font-weight="normal" >80</text>
<text x="452.5" y="157.85" font-size="10.7" text-anchor="middle" font-weight="normal" >100</text>
<text x="369" y="171.4" font-size="10.9" text-anchor="middle" font-weight="normal" >oligo-dT length (nucleotides)</text>
<text x="236.2" y="11" font-size="12.3" text-anchor="start" font-weight="bold" >B</text>
<text transform="translate(245.4,119.8) rotate(-90)" font-size="10.9" text-anchor="start">mol P<tspan font-size="6" dy="2.4">i</tspan><tspan dy="-2.4"> / mol BLM</tspan><tspan font-size="6.2" dy="-7.0" stroke-width="0.3">HM</tspan></text>
<text x="445.8" y="19.8" font-size="11" text-anchor="end" font-weight="normal" >1 mg/ml HEP</text>
<text x="445.8" y="86.6" font-size="11" text-anchor="end" font-weight="normal" >4 mg/ml HEP</text>
<path d="M299.8 138.1 L300.57 136.63 L301.34 135.16 L302.1 133.68 L302.86 132.21 L303.62 130.73 L304.37 129.25 L305.12 127.77 L305.86 126.28 L306.58 124.79 L307.3 123.29 L308.03 121.79 L308.75 120.3 L309.48 118.81 L310.23 117.33 L310.99 115.85 L311.74 114.37 L312.49 112.88 L313.25 111.39 L314.01 109.91 L314.79 108.44 L315.58 106.97 L316.38 105.52 L317.21 104.08 L318.07 102.67 L318.95 101.28 L319.87 99.91 L320.83 98.56 L321.82 97.22 L322.85 95.9 L323.9 94.61 L324.98 93.34 L326.08 92.11 L327.21 90.9 L328.38 89.72 L329.59 88.57 L330.81 87.45 L332.06 86.35 L333.34 85.3 L334.65 84.27 L335.95 83.24 L337.23 82.18 L338.47 81.08 L339.66 79.92 L340.87 78.78 L342.07 77.63 L343.27 76.48 L344.48 75.34 L345.69 74.21 L346.92 73.09 L348.17 72 L349.43 70.93 L350.72 69.88 L352.02 68.85 L353.33 67.83 L354.66 66.83 L355.99 65.84 L357.33 64.86 L358.68 63.89 L360.04 62.94 L361.42 62 L362.8 61.08 L364.19 60.18 L365.59 59.29 L367.01 58.43 L368.44 57.58 L369.88 56.75 L371.32 55.92 L372.76 55.11 L374.21 54.3 L375.67 53.5 L377.13 52.71 L378.59 51.92 L380.05 51.14 L381.52 50.35 L382.98 49.56 L384.44 48.76 L385.9 47.97 L387.37 47.21 L388.86 46.48 L390.36 45.78 L391.87 45.09 L393.4 44.42 L394.92 43.77 L396.46 43.13 L398 42.52 L399.55 41.92 L401.1 41.34 L402.66 40.77 L404.23 40.22 L405.8 39.69 L407.38 39.16 L408.96 38.64 L410.54 38.14 L412.12 37.64 L413.71 37.16 L415.3 36.69 L416.9 36.23 L418.5 35.77 L420.09 35.32 L421.69 34.86 L423.29 34.41 L424.89 33.96 L426.49 33.52 L428.09 33.08 L429.69 32.66 L431.3 32.24 L432.91 31.84 L434.53 31.46 L436.14 31.08 L437.76 30.71 L439.38 30.34 L441 29.98 L442.62 29.63 L444.24 29.29 L445.87 28.95 L447.5 28.62 L449.13 28.31 L450.76 28 L452.4 27.7" fill="none" stroke="#000" stroke-width="1.02" stroke-linejoin="round" />
<path d="M299.8 138.1 L300.53 136.7 L301.26 135.3 L301.99 133.9 L302.71 132.5 L303.43 131.1 L304.15 129.69 L304.86 128.28 L305.56 126.87 L306.26 125.45 L306.95 124.03 L307.63 122.61 L308.32 121.19 L309.01 119.77 L309.71 118.36 L310.42 116.95 L311.14 115.55 L311.86 114.14 L312.57 112.72 L313.28 111.3 L314.01 109.89 L314.74 108.49 L315.49 107.09 L316.25 105.71 L317.04 104.35 L317.85 103 L318.68 101.68 L319.55 100.38 L320.47 99.1 L321.42 97.83 L322.4 96.59 L323.41 95.37 L324.45 94.17 L325.51 93.01 L326.6 91.88 L327.74 90.79 L328.91 89.72 L330.11 88.69 L331.33 87.69 L332.57 86.72 L333.84 85.78 L335.12 84.86 L336.43 83.96 L337.75 83.1 L339.09 82.28 L340.47 81.5 L341.81 80.67 L343.12 79.78 L344.41 78.86 L345.69 77.94 L347 77.06 L348.33 76.24 L349.71 75.48 L351.11 74.75 L352.53 74.06 L353.97 73.39 L355.42 72.75 L356.87 72.15 L358.34 71.58 L359.82 71.05 L361.32 70.55 L362.82 70.06 L364.32 69.56 L365.82 69.05 L367.31 68.54 L368.8 68.02 L370.3 67.51 L371.8 67.04 L373.31 66.6 L374.83 66.19 L376.36 65.81 L377.9 65.43 L379.43 65.07 L380.97 64.71 L382.5 64.33 L384.03 63.94 L385.56 63.53 L387.08 63.1 L388.59 62.67 L390.11 62.23 L391.63 61.8 L393.15 61.36 L394.67 60.94 L396.19 60.53 L397.72 60.14 L399.25 59.77 L400.78 59.41 L402.32 59.05 L403.86 58.7 L405.41 58.37 L406.95 58.05 L408.5 57.76 L410.05 57.49 L411.61 57.23 L413.16 56.99 L414.72 56.75 L416.29 56.52 L417.85 56.3 L419.41 56.09 L420.98 55.89 L422.55 55.7 L424.12 55.51 L425.68 55.34 L427.25 55.16 L428.82 55 L430.39 54.85 L431.96 54.7 L433.53 54.56 L435.1 54.42 L436.68 54.29 L438.25 54.15 L439.82 54.02 L441.39 53.88 L442.96 53.75 L444.54 53.62 L446.11 53.49 L447.68 53.36 L449.25 53.24 L450.83 53.12 L452.4 53" fill="none" stroke="#000" stroke-width="1.02" stroke-linejoin="round" />
<circle cx="331.3" cy="89.6" r="2.4" fill="#fff" stroke="#000" stroke-width="0.85"/>
<circle cx="341.9" cy="83.2" r="2.4" fill="#fff" stroke="#000" stroke-width="0.85"/>
<path d="M357.1 72.9 V78.7 M355.8 72.9 H358.4 M355.8 78.7 H358.4" stroke="#000" stroke-width="0.7" fill="none"/>
<rect x="354.82" y="73.82" width="4.55" height="3.95" fill="#fff" stroke="#000" stroke-width="0.85"/>
<path d="M372.7 67.8 V73.2 M371.4 67.8 H374 M371.4 73.2 H374" stroke="#000" stroke-width="0.7" fill="none"/>
<rect x="370.42" y="68.52" width="4.55" height="3.95" fill="#fff" stroke="#000" stroke-width="0.85"/>
<rect x="386.02" y="62.72" width="4.55" height="3.95" fill="#fff" stroke="#000" stroke-width="0.85"/>
<rect x="401.42" y="58.32" width="4.55" height="3.95" fill="#fff" stroke="#000" stroke-width="0.85"/>
<rect x="413.62" y="55.02" width="4.55" height="3.95" fill="#fff" stroke="#000" stroke-width="0.85"/>
<path d="M434.8 47 V53.6 M433.5 47 H436.1 M433.5 53.6 H436.1" stroke="#000" stroke-width="0.7" fill="none"/>
<rect x="432.52" y="48.32" width="4.55" height="3.95" fill="#fff" stroke="#000" stroke-width="0.85"/>
<rect x="328.5" y="84.4" width="5.4" height="5.4" fill="#000"/>
<rect x="338.6" y="77.9" width="5.4" height="5.4" fill="#000"/>
<path d="M357.1 65.8 V71.8 M355 65.8 H359.2 M355 71.8 H359.2" stroke="#000" stroke-width="1.0" fill="none"/>
<rect x="354.4" y="66.1" width="5.4" height="5.4" fill="#000"/>
<rect x="370" y="53.2" width="5.4" height="5.4" fill="#000"/>
<rect x="385.6" y="43.7" width="5.4" height="5.4" fill="#000"/>
<path d="M403.6 42.9 V50.7 M401.5 42.9 H405.7 M401.5 50.7 H405.7" stroke="#000" stroke-width="1.0" fill="none"/>
<rect x="400.9" y="44.1" width="5.4" height="5.4" fill="#000"/>
<path d="M415.9 29.3 V36.5 M413.8 29.3 H418 M413.8 36.5 H418" stroke="#000" stroke-width="1.0" fill="none"/>
<rect x="413.2" y="30.2" width="5.4" height="5.4" fill="#000"/>
<path d="M434.8 27.4 V33.4 M432.7 27.4 H436.9 M432.7 33.4 H436.9" stroke="#000" stroke-width="1.0" fill="none"/>
<rect x="432.1" y="27.7" width="5.4" height="5.4" fill="#000"/>
<circle cx="299.8" cy="138.1" r="2.75" fill="#000"/>
<circle cx="305.1" cy="127.8" r="2.75" fill="#000"/>
<circle cx="310.4" cy="117" r="2.75" fill="#000"/>
<circle cx="319" cy="100.2" r="2.75" fill="#000"/>
<rect x="44.5" y="188.5" width="173" height="139.5" fill="none" stroke="#525252" stroke-width="1.0"/>
<line x1="44.5" y1="328" x2="41.2" y2="328" stroke="#525252" stroke-width="1.0"/>
<line x1="44.5" y1="300.1" x2="41.2" y2="300.1" stroke="#525252" stroke-width="1.0"/>
<line x1="44.5" y1="272.2" x2="41.2" y2="272.2" stroke="#525252" stroke-width="1.0"/>
<line x1="44.5" y1="244.3" x2="41.2" y2="244.3" stroke="#525252" stroke-width="1.0"/>
<line x1="44.5" y1="216.4" x2="41.2" y2="216.4" stroke="#525252" stroke-width="1.0"/>
<line x1="44.5" y1="188.5" x2="41.2" y2="188.5" stroke="#525252" stroke-width="1.0"/>
<line x1="44.5" y1="314.05" x2="42.7" y2="314.05" stroke="#525252" stroke-width="1.0"/>
<line x1="44.5" y1="286.15" x2="42.7" y2="286.15" stroke="#525252" stroke-width="1.0"/>
<line x1="44.5" y1="258.25" x2="42.7" y2="258.25" stroke="#525252" stroke-width="1.0"/>
<line x1="44.5" y1="230.35" x2="42.7" y2="230.35" stroke="#525252" stroke-width="1.0"/>
<line x1="44.5" y1="202.45" x2="42.7" y2="202.45" stroke="#525252" stroke-width="1.0"/>
<line x1="217.5" y1="328" x2="214.6" y2="328" stroke="#525252" stroke-width="1.0"/>
<line x1="217.5" y1="300.1" x2="214.6" y2="300.1" stroke="#525252" stroke-width="1.0"/>
<line x1="217.5" y1="272.2" x2="214.6" y2="272.2" stroke="#525252" stroke-width="1.0"/>
<line x1="217.5" y1="244.3" x2="214.6" y2="244.3" stroke="#525252" stroke-width="1.0"/>
<line x1="217.5" y1="216.4" x2="214.6" y2="216.4" stroke="#525252" stroke-width="1.0"/>
<line x1="217.5" y1="188.5" x2="214.6" y2="188.5" stroke="#525252" stroke-width="1.0"/>
<line x1="217.5" y1="314.05" x2="215.6" y2="314.05" stroke="#525252" stroke-width="1.0"/>
<line x1="217.5" y1="286.15" x2="215.6" y2="286.15" stroke="#525252" stroke-width="1.0"/>
<line x1="217.5" y1="258.25" x2="215.6" y2="258.25" stroke="#525252" stroke-width="1.0"/>
<line x1="217.5" y1="230.35" x2="215.6" y2="230.35" stroke="#525252" stroke-width="1.0"/>
<line x1="217.5" y1="202.45" x2="215.6" y2="202.45" stroke="#525252" stroke-width="1.0"/>
<line x1="44.5" y1="328" x2="44.5" y2="330.9" stroke="#525252" stroke-width="1.0"/>
<line x1="82.84" y1="328" x2="82.84" y2="330.9" stroke="#525252" stroke-width="1.0"/>
<line x1="121.18" y1="328" x2="121.18" y2="330.9" stroke="#525252" stroke-width="1.0"/>
<line x1="159.52" y1="328" x2="159.52" y2="330.9" stroke="#525252" stroke-width="1.0"/>
<line x1="197.86" y1="328" x2="197.86" y2="330.9" stroke="#525252" stroke-width="1.0"/>
<line x1="63.67" y1="328" x2="63.67" y2="329.8" stroke="#525252" stroke-width="1.0"/>
<line x1="102.01" y1="328" x2="102.01" y2="329.8" stroke="#525252" stroke-width="1.0"/>
<line x1="140.35" y1="328" x2="140.35" y2="329.8" stroke="#525252" stroke-width="1.0"/>
<line x1="178.69" y1="328" x2="178.69" y2="329.8" stroke="#525252" stroke-width="1.0"/>
<line x1="44.5" y1="188.5" x2="44.5" y2="191.2" stroke="#525252" stroke-width="1.0"/>
<line x1="82.84" y1="188.5" x2="82.84" y2="191.2" stroke="#525252" stroke-width="1.0"/>
<line x1="121.18" y1="188.5" x2="121.18" y2="191.2" stroke="#525252" stroke-width="1.0"/>
<line x1="159.52" y1="188.5" x2="159.52" y2="191.2" stroke="#525252" stroke-width="1.0"/>
<line x1="197.86" y1="188.5" x2="197.86" y2="191.2" stroke="#525252" stroke-width="1.0"/>
<line x1="63.67" y1="188.5" x2="63.67" y2="190.1" stroke="#525252" stroke-width="1.0"/>
<line x1="102.01" y1="188.5" x2="102.01" y2="190.1" stroke="#525252" stroke-width="1.0"/>
<line x1="140.35" y1="188.5" x2="140.35" y2="190.1" stroke="#525252" stroke-width="1.0"/>
<line x1="178.69" y1="188.5" x2="178.69" y2="190.1" stroke="#525252" stroke-width="1.0"/>
<text x="39.3" y="331.4" font-size="10.7" text-anchor="end" font-weight="normal" >0.90</text>
<text x="39.3" y="303.5" font-size="10.7" text-anchor="end" font-weight="normal" >0.92</text>
<text x="39.3" y="275.6" font-size="10.7" text-anchor="end" font-weight="normal" >0.94</text>
<text x="39.3" y="247.7" font-size="10.7" text-anchor="end" font-weight="normal" >0.96</text>
<text x="39.3" y="219.8" font-size="10.7" text-anchor="end" font-weight="normal" >0.98</text>
<text x="39.3" y="191.9" font-size="10.7" text-anchor="end" font-weight="normal" >1.00</text>
<text x="44.5" y="341.8" font-size="10.7" text-anchor="middle" font-weight="normal" >0</text>
<text x="82.84" y="341.8" font-size="10.7" text-anchor="middle" font-weight="normal" >2</text>
<text x="121.18" y="341.8" font-size="10.7" text-anchor="middle" font-weight="normal" >4</text>
<text x="159.52" y="341.8" font-size="10.7" text-anchor="middle" font-weight="normal" >6</text>
<text x="197.86" y="341.8" font-size="10.7" text-anchor="middle" font-weight="normal" >8</text>
<text x="128.7" y="356.6" font-size="10.5" text-anchor="middle" font-weight="normal" >[heparin] (mg/ml)</text>
<text x="1" y="195.6" font-size="12.3" text-anchor="start" font-weight="bold" >C</text>
<text transform="translate(9,282.7) rotate(-90)" font-size="10.9" text-anchor="start">Processivity</text>
<path d="M44.9 204 L44.97 205.24 L45.03 206.47 L45.1 207.71 L45.16 208.95 L45.22 210.18 L45.27 211.42 L45.33 212.66 L45.38 213.9 L45.43 215.13 L45.47 216.37 L45.52 217.61 L45.56 218.85 L45.6 220.08 L45.65 221.32 L45.7 222.56 L45.75 223.8 L45.8 225.03 L45.86 226.27 L45.92 227.51 L45.97 228.74 L46.04 229.98 L46.1 231.22 L46.17 232.46 L46.25 233.69 L46.33 234.93 L46.41 236.16 L46.51 237.4 L46.62 238.63 L46.74 239.86 L46.86 241.1 L47 242.33 L47.15 243.56 L47.3 244.78 L47.47 246.01 L47.66 247.24 L47.86 248.46 L48.06 249.68 L48.28 250.9 L48.51 252.11 L48.76 253.33 L49.02 254.54 L49.29 255.75 L49.56 256.96 L49.84 258.16 L50.11 259.37 L50.39 260.58 L50.67 261.79 L50.96 262.99 L51.26 264.19 L51.57 265.39 L51.89 266.59 L52.22 267.79 L52.57 268.99 L52.94 270.17 L53.34 271.34 L53.8 272.47 L54.33 273.57 L54.92 274.65 L55.56 275.72 L56.23 276.78 L56.91 277.83 L57.58 278.88 L58.22 279.94 L58.86 281.01 L59.49 282.09 L60.13 283.17 L60.78 284.24 L61.45 285.29 L62.15 286.31 L62.88 287.28 L63.66 288.2 L64.5 289.09 L65.39 289.95 L66.32 290.79 L67.28 291.59 L68.27 292.37 L69.27 293.11 L70.27 293.82 L71.31 294.49 L72.37 295.13 L73.46 295.74 L74.56 296.32 L75.66 296.88 L76.77 297.41 L77.9 297.93 L79.04 298.42 L80.19 298.9 L81.34 299.36 L82.49 299.8 L83.65 300.23 L84.81 300.66 L85.98 301.09 L87.15 301.52 L88.32 301.94 L89.49 302.35 L90.67 302.76 L91.85 303.15 L93.03 303.53 L94.22 303.89 L95.41 304.24 L96.6 304.57 L97.79 304.88 L98.99 305.17 L100.19 305.44 L101.39 305.69 L102.6 305.94 L103.81 306.17 L105.03 306.39 L106.25 306.61 L107.47 306.82 L108.69 307.02 L109.92 307.22 L111.15 307.41 L112.38 307.59 L113.61 307.76 L114.84 307.93 L116.07 308.1 L117.3 308.26 L118.53 308.42 L119.76 308.57 L120.99 308.72 L122.22 308.87 L123.44 309.01 L124.67 309.15 L125.91 309.29 L127.14 309.42 L128.37 309.55 L129.6 309.67 L130.83 309.79 L132.07 309.91 L133.3 310.03 L134.54 310.14 L135.77 310.25 L137 310.36 L138.24 310.46 L139.47 310.56 L140.71 310.66 L141.94 310.76 L143.18 310.85 L144.41 310.94 L145.64 311.03 L146.88 311.12 L148.12 311.21 L149.35 311.29 L150.59 311.38 L151.82 311.46 L153.06 311.54 L154.29 311.62 L155.53 311.69 L156.77 311.77 L158 311.84 L159.24 311.91 L160.48 311.98 L161.71 312.05 L162.95 312.12 L164.19 312.19 L165.42 312.25 L166.66 312.32 L167.9 312.38 L169.13 312.44 L170.37 312.51 L171.61 312.57 L172.84 312.63 L174.08 312.69 L175.32 312.75 L176.55 312.8 L177.79 312.86 L179.03 312.91 L180.27 312.97 L181.5 313.02 L182.74 313.07 L183.98 313.12 L185.22 313.17 L186.45 313.22 L187.69 313.27 L188.93 313.31 L190.17 313.35 L191.4 313.4 L192.64 313.44 L193.88 313.48 L195.12 313.52 L196.35 313.56 L197.59 313.6 L198.83 313.63 L200.07 313.67 L201.31 313.71 L202.54 313.74 L203.78 313.78 L205.02 313.81 L206.26 313.85 L207.49 313.88 L208.73 313.91 L209.97 313.94 L211.21 313.97 L212.45 314 L213.69 314.03 L214.92 314.05 L216.16 314.08 L217.4 314.1" fill="none" stroke="#000" stroke-width="1.02" stroke-linejoin="round" />
<clipPath id="cc"><rect x="43.9" y="188" width="175" height="141"/></clipPath><g clip-path="url(#cc)">
<rect x="42.9" y="206" width="4.8" height="4.8" fill="#000"/>
<rect x="43.4" y="228.7" width="4.8" height="4.8" fill="#000"/>
<rect x="44.4" y="239.8" width="4.8" height="4.8" fill="#000"/>
<rect x="46.9" y="252.3" width="4.8" height="4.8" fill="#000"/>
<rect x="51.2" y="265.7" width="4.8" height="4.8" fill="#000"/>
<rect x="61" y="280.9" width="4.8" height="4.8" fill="#000"/>
<rect x="80.1" y="296.8" width="4.8" height="4.8" fill="#000"/>
<rect x="118.6" y="307.6" width="4.8" height="4.8" fill="#000"/>
<rect x="195.1" y="313.2" width="4.8" height="4.8" fill="#000"/>
</g>
</svg>
</body></html>
